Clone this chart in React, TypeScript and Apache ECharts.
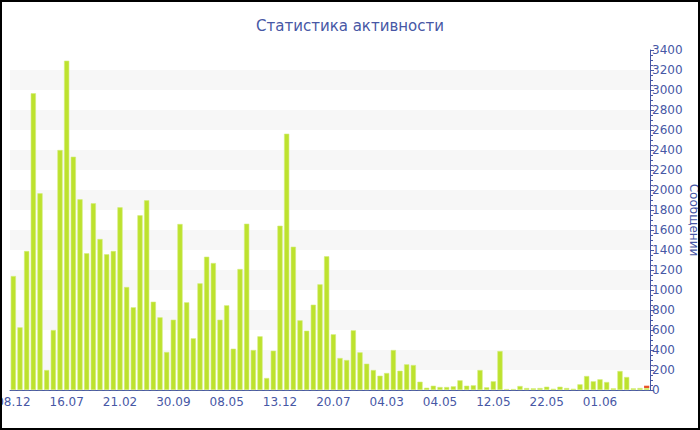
import React, { useEffect, useRef } from "react";
import * as echarts from "echarts";

const tickLabels = ["08.12", "16.07", "21.02", "30.09", "08.05", "13.12", "20.07", "04.03", "04.05", "12.05", "22.05", "01.06"];

const messages = [
  1140, 627, 1390, 2967, 1967, 200, 600, 2400,
  3293, 2333, 1907, 1367, 1867, 1510, 1357, 1390,
  1827, 1030, 827, 1747, 1897, 883, 727, 380,
  703, 1660, 877, 517, 1067, 1333, 1270, 703,
  847, 413, 1210, 1663, 400, 537, 120, 393,
  1643, 2563, 1433, 697, 593, 853, 1057, 1337,
  557, 320, 300, 597, 377, 263, 200, 143,
  170, 400, 193, 257, 250, 83, 23, 43,
  30, 30, 37, 97, 43, 47, 200, 27,
  87, 390, 10, 10, 40, 20, 17, 20,
  33, 13, 33, 20, 13, 57, 140, 87,
  107, 80, 17, 190, 130, 17, 20, 20,
];

const extra = [
  0, 0, 0, 0, 0, 0, 0, 0, 0, 0, 0, 0, 0, 0, 0, 0,
  0, 0, 0, 0, 0, 0, 0, 0, 0, 0, 0, 0, 0, 0, 0, 0,
  0, 0, 0, 0, 0, 0, 0, 0, 0, 0, 0, 0, 0, 0, 0, 0,
  0, 0, 0, 0, 0, 0, 0, 0, 0, 0, 0, 0, 0, 0, 0, 0,
  0, 0, 0, 0, 0, 0, 0, 0, 0, 0, 0, 0, 0, 0, 0, 0,
  0, 0, 0, 0, 0, 0, 0, 0, 0, 0, 0, 0, 0, 0, 0, 23,
];

const LABEL_STEP = 8;
const categories = messages.map((_, i) => String(i));

const BLUE = "#4757a5";
const FONT = "DejaVu Sans";

export default function App() {
  const ref = useRef<HTMLDivElement>(null);
  useEffect(() => {
    document.body.style.margin = "0";
    const chart = echarts.init(ref.current!, null, { renderer: "svg" });
    chart.setOption({
      animation: false,
      title: {
        text: "Статистика активности",
        left: "center",
        top: 13,
        textStyle: { color: BLUE, fontFamily: FONT, fontSize: 15, fontWeight: "normal" },
      },
      grid: { left: 10, right: 50, top: 50, bottom: 40, containLabel: false, outerBoundsMode: "none" },
      xAxis: {
        type: "category",
        data: categories,
        boundaryGap: true,
        axisLine: { lineStyle: { color: BLUE, width: 1 } },
        axisTick: { alignWithLabel: true, interval: LABEL_STEP - 1, length: 4, lineStyle: { color: BLUE } },
        axisLabel: {
          interval: LABEL_STEP - 1,
          color: BLUE,
          fontFamily: FONT,
          fontSize: 12,
          margin: 6,
          hideOverlap: false,
          formatter: (_v: string, idx: number) => (idx % LABEL_STEP === 0 ? tickLabels[idx / LABEL_STEP] : ""),
        },
        splitLine: { show: false },
      },
      yAxis: {
        type: "value",
        position: "right",
        min: 0,
        max: 3400,
        interval: 200,
        name: "Сообщений",
        nameLocation: "middle",
        nameRotate: -90,
        nameGap: 38,
        nameMoveOverlap: false,
        nameTextStyle: { color: BLUE, fontFamily: FONT, fontSize: 12 },
        axisLine: { show: true, lineStyle: { color: BLUE, width: 1 } },
        axisTick: { show: true, length: 4, lineStyle: { color: BLUE } },
        minorTick: { show: true, splitNumber: 4, length: 3, lineStyle: { color: BLUE } },
        axisLabel: { color: BLUE, fontFamily: FONT, fontSize: 12, margin: 2, formatter: (v: number) => String(v) },
        splitLine: { show: false },
        splitArea: { show: true, areaStyle: { color: ["#ffffff", "#f7f7f7"] } },
      },
      series: [
        {
          type: "bar",
          stack: "s",
          data: messages,
          barCategoryGap: "22%",
          itemStyle: { color: "#bde22e", borderColor: "#d4ee7a", borderWidth: 0.6 },
        },
        {
          type: "bar",
          stack: "s",
          data: extra,
          itemStyle: { color: "#e8542a" },
        },
      ],
    });
    return () => chart.dispose();
  }, []);
  return (
    <div
      style={{
        width: 700,
        height: 430,
        boxSizing: "border-box",
        border: "2px solid #000",
        position: "relative",
        overflow: "hidden",
      }}
    >
      <div ref={ref} style={{ position: "absolute", left: -2, top: -2, width: 700, height: 430 }} />
    </div>
  );
}
